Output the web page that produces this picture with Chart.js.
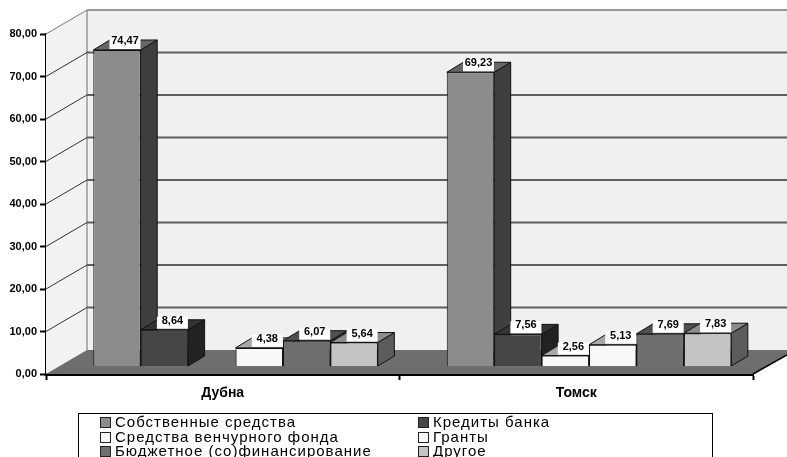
<!DOCTYPE html>
<html lang="ru">
<head>
<meta charset="utf-8">
<title>Источники финансирования</title>
<script src="https://cdn.jsdelivr.net/npm/chart.js@4"></script>
<style>
    html, body { margin: 0; padding: 0; background: #fff; overflow: hidden; }
    canvas { display: block; }
</style>
</head>
<body>
<canvas id="myChart" width="787" height="457"></canvas>
<script>
const categories = ['Дубна', 'Томск'];
const seriesNames = ['Собственные средства', 'Кредиты банка', 'Средства венчурного фонда', 'Гранты', 'Бюджетное (со)финансирование', 'Другое'];
const ownFunds = [74.47, 69.23];
const bankLoans = [8.64, 7.56];
const ventureFund = [null, 2.56];
const grants = [4.38, 5.13];
const budgetFunding = [6.07, 7.69];
const otherFunds = [5.64, 7.83];
const seriesValues = [ownFunds, bankLoans, ventureFund, grants, budgetFunding, otherFunds];

// Цвета граней: передняя, боковая, верхняя
const frontColors = ['#8c8c8c', '#464646', '#f8f8f8', '#f8f8f8', '#6f6f6f', '#c4c4c4'];
const sideColors = ['#3f3f3f', '#222222', '#555555', '#555555', '#3a3a3a', '#5c5c5c'];
const topColors = ['#666666', '#333333', '#a8a8a8', '#a8a8a8', '#4f4f4f', '#8c8c8c'];

// Смещение задней стенки и плоскости столбцов относительно осей
const wallDx = 41, wallDy = -24;
const barDx = 12.8, barDy = -7.5;
const depthX = 16.5, depthY = -10;

const FONT = '"Liberation Sans", Arial, sans-serif';

function polygon(ctx, points, fill, stroke, lineWidth) {
    ctx.beginPath();
    points.forEach((p, i) => i ? ctx.lineTo(p[0], p[1]) : ctx.moveTo(p[0], p[1]));
    ctx.closePath();
    if (fill) {
        ctx.fillStyle = fill;
        ctx.fill();
    }
    if (stroke) {
        ctx.strokeStyle = stroke;
        ctx.lineWidth = lineWidth || 1;
        ctx.stroke();
    }
}

function line(ctx, x1, y1, x2, y2, color, width) {
    ctx.beginPath();
    ctx.moveTo(x1, y1);
    ctx.lineTo(x2, y2);
    ctx.strokeStyle = color;
    ctx.lineWidth = width;
    ctx.stroke();
}

// Стены, пол и линии сетки
const wallsPlugin = {
    id: 'walls',
    beforeDatasetsDraw(chart) {
        const { ctx, chartArea: area, scales: { y } } = chart;
        const canvasRight = chart.width;
        const backLeft = area.left + wallDx;
        const backTop = area.top + wallDy;
        const backBottom = area.bottom + wallDy;

        ctx.save();
        polygon(ctx, [[area.left, area.top], [backLeft, backTop], [backLeft, backBottom], [area.left, area.bottom]], '#f2f2f2');
        ctx.fillStyle = '#f0f0f0';
        ctx.fillRect(backLeft, backTop, canvasRight - backLeft, backBottom - backTop);

        line(ctx, backLeft, backTop, canvasRight, backTop, '#777777', 1.5);
        line(ctx, backLeft, backTop, backLeft, backBottom, '#999999', 1.5);

        y.ticks.forEach(tick => {
            const py = y.getPixelForValue(tick.value);
            if (tick.value > 0) {
                line(ctx, area.left, py, backLeft, py + wallDy, tick.value === 80 ? '#777777' : '#333333', 1);
                if (tick.value < 80) {
                    line(ctx, backLeft, py + wallDy, canvasRight, py + wallDy, '#5f5f5f', 2);
                }
            }
        });

        // Пол
        polygon(ctx, [
            [area.left, area.bottom],
            [backLeft, backBottom],
            [canvasRight, backBottom],
            [canvasRight, area.bottom + wallDy + 5],
            [area.right, area.bottom]
        ], '#6e6e6e');
        line(ctx, area.right, area.bottom, canvasRight, area.bottom - 19, '#000000', 1.5);
        ctx.restore();
    }
};

// Объёмные столбцы рисуются слева направо, поверх верхней грани стоит подпись значения
const bars3dPlugin = {
    id: 'bars3d',
    beforeDatasetDraw() {
        return false;
    },
    afterDatasetsDraw(chart) {
        const { ctx } = chart;
        chart.data.datasets.forEach((dataset, index) => {
            const meta = chart.getDatasetMeta(index);

            ctx.save();
            ctx.translate(barDx, barDy);
            meta.data.forEach((bar, i) => {
                if (dataset.data[i] === null) return;
                const { x, y, base, width } = bar.getProps(['x', 'y', 'base', 'width'], true);
                const left = x - width / 2, right = x + width / 2;
                polygon(ctx, [[right, y], [right + depthX, y + depthY], [right + depthX, base + depthY], [right, base]], sideColors[index], '#111111', 1);
                polygon(ctx, [[left, y], [left + depthX, y + depthY], [right + depthX, y + depthY], [right, y]], topColors[index], '#111111', 1);
            });
            meta.controller.draw();

            meta.data.forEach((bar, i) => {
                const value = dataset.data[i];
                if (value === null) return;
                const { x, y } = bar.getProps(['x', 'y'], true);
                const labelX = x + 8;
                ctx.fillStyle = '#ffffff';
                ctx.fillRect(labelX - 15.5, y - 13, 31, 12);
                ctx.fillStyle = '#000000';
                ctx.font = 'bold 11px ' + FONT;
                ctx.textAlign = 'center';
                ctx.textBaseline = 'middle';
                ctx.fillText(value.toFixed(2).replace('.', ','), labelX, y - 9);
            });
            ctx.restore();
        });
    }
};

// Легенда в две колонки, нижний край рамки уходит за пределы окна
const legendBoxPlugin = {
    id: 'legendBox',
    afterDraw(chart) {
        const { ctx } = chart;
        const boxLeft = 78.5, boxTop = 413.5, boxRight = 712.5;
        const rowY = [423, 438, 452];
        const columnX = [100, 418];

        ctx.save();
        ctx.fillStyle = '#ffffff';
        ctx.fillRect(boxLeft, boxTop, boxRight - boxLeft, chart.height - boxTop + 5);
        ctx.strokeStyle = '#000000';
        ctx.lineWidth = 1;
        ctx.strokeRect(boxLeft, boxTop, boxRight - boxLeft, chart.height - boxTop + 5);

        ctx.font = '15px ' + FONT;
        ctx.letterSpacing = '1px';
        ctx.textAlign = 'left';
        ctx.textBaseline = 'middle';
        seriesNames.forEach((name, i) => {
            const x = columnX[i % 2];
            const y = rowY[Math.floor(i / 2)];
            ctx.fillStyle = frontColors[i];
            ctx.fillRect(x + 0.5, y - 5.5, 10, 10);
            ctx.strokeStyle = '#222222';
            ctx.strokeRect(x + 0.5, y - 5.5, 10, 10);
            ctx.fillStyle = '#000000';
            ctx.fillText(name, x + 15, y);
        });
        ctx.restore();
    }
};

const ctx = document.getElementById('myChart').getContext('2d');

new Chart(ctx, {
    type: 'bar',
    data: {
        labels: categories,
        datasets: seriesValues.map((values, i) => ({
            label: seriesNames[i],
            data: values,
            backgroundColor: frontColors[i],
            borderColor: '#111111',
            borderWidth: 1,
            barPercentage: 1,
            categoryPercentage: 0.805
        }))
    },
    options: {
        responsive: false,
        animation: false,
        layout: {
            padding: { top: 34, right: 34, bottom: 0, left: 0 }
        },
        plugins: {
            legend: { display: false },
            tooltip: { enabled: false }
        },
        scales: {
            x: {
                grid: {
                    offset: true,
                    drawOnChartArea: false,
                    tickLength: 6,
                    tickWidth: 2,
                    tickColor: '#000000'
                },
                border: { color: '#000000', width: 3 },
                ticks: {
                    color: '#000000',
                    padding: 5,
                    maxRotation: 0,
                    font: { family: FONT, size: 14, weight: 'bold' }
                },
                afterFit(scale) {
                    scale.height = 83;
                }
            },
            y: {
                min: 0,
                max: 80,
                grid: {
                    drawOnChartArea: false,
                    tickLength: 6,
                    tickWidth: 2,
                    tickColor: '#000000'
                },
                border: { color: '#000000', width: 2 },
                ticks: {
                    stepSize: 10,
                    color: '#000000',
                    padding: 3,
                    font: { family: FONT, size: 11, weight: 'bold' },
                    callback: function(value) {
                        return value.toFixed(2).replace('.', ',');
                    }
                },
                afterFit(scale) {
                    scale.width = 46;
                }
            }
        }
    },
    plugins: [wallsPlugin, bars3dPlugin, legendBoxPlugin]
});
</script>
</body>
</html>
